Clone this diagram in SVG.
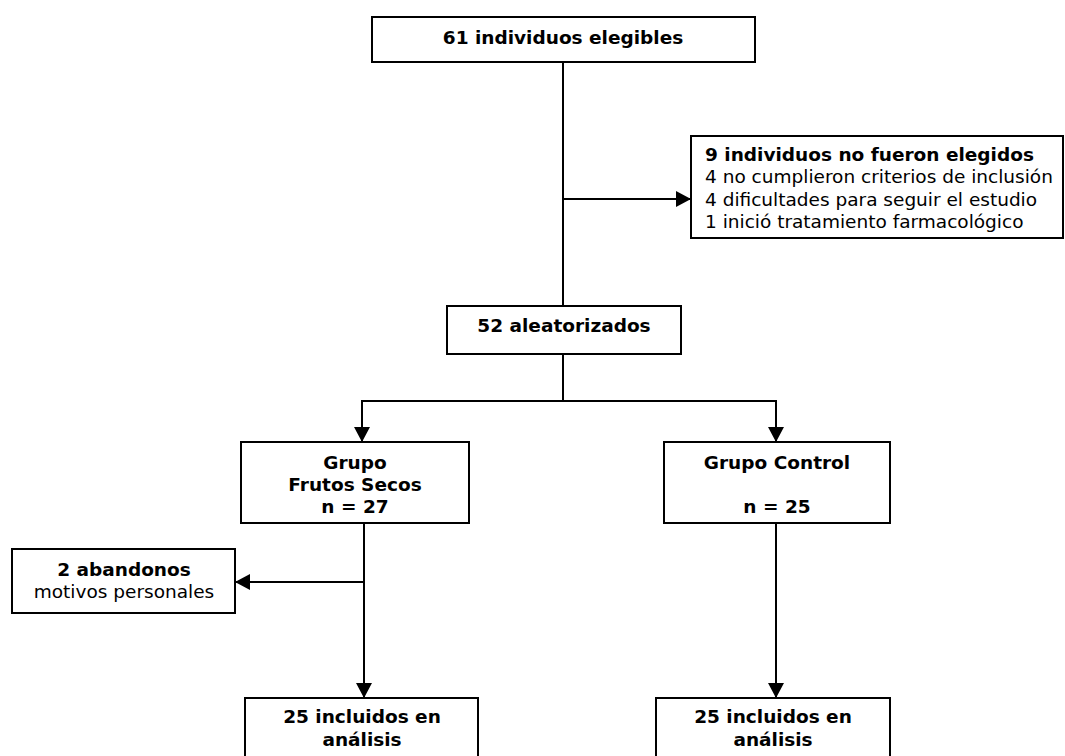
<svg xmlns="http://www.w3.org/2000/svg" width="1065" height="756" viewBox="0 0 1065 756">
<defs>
<style>
.box{fill:#fff;stroke:#000;stroke-width:2}
.ln{fill:none;stroke:#000;stroke-width:2}
.b{font-family:"DejaVu Sans","Verdana",sans-serif;font-weight:bold;font-size:18.5px;fill:#000}
.r{font-family:"DejaVu Sans","Verdana",sans-serif;font-size:18.5px;fill:#000}
.c{text-anchor:middle}
</style>
<marker id="ah" markerUnits="userSpaceOnUse" markerWidth="16" markerHeight="16" viewBox="0 0 15 16" refX="15" refY="8" orient="auto">
<path d="M0,0 L15,8 L0,16 Z" fill="#000"/>
</marker>
</defs>
<rect width="1065" height="756" fill="#fff"/>
<g id="connectors">
<line class="ln" x1="563" y1="62" x2="563" y2="306"/>
<line class="ln" x1="563" y1="199" x2="691" y2="199" marker-end="url(#ah)"/>
<polyline class="ln" points="563,354 563,401 362,401 362,442" marker-end="url(#ah)"/>
<polyline class="ln" points="563,401 776,401 776,442" marker-end="url(#ah)"/>
<line class="ln" x1="364" y1="523" x2="364" y2="698" marker-end="url(#ah)"/>
<line class="ln" x1="364" y1="582" x2="235" y2="582" marker-end="url(#ah)"/>
<line class="ln" x1="776" y1="523" x2="776" y2="698" marker-end="url(#ah)"/>
</g>
<g id="n_eligibles">
<rect class="box" x="372" y="17" width="383" height="45"/>
<text class="b c" x="563" y="44">61 individuos elegibles</text>
</g>
<g id="n_excluded">
<rect class="box" x="691" y="136" width="372" height="102"/>
<text class="b" x="705" y="161">9 individuos no fueron elegidos</text>
<text class="r" x="705" y="183">4 no cumplieron criterios de inclusión</text>
<text class="r" x="705" y="206">4 dificultades para seguir el estudio</text>
<text class="r" x="705" y="228">1 inició tratamiento farmacológico</text>
</g>
<g id="n_random">
<rect class="box" x="447" y="306" width="234" height="48"/>
<text class="b c" x="564" y="332">52 aleatorizados</text>
</g>
<g id="n_frutos">
<rect class="box" x="241" y="442" width="228" height="81"/>
<text class="b c" x="355" y="469">Grupo</text>
<text class="b c" x="355" y="491">Frutos Secos</text>
<text class="b c" x="355" y="513">n = 27</text>
</g>
<g id="n_control">
<rect class="box" x="664" y="442" width="226" height="81"/>
<text class="b c" x="777" y="469">Grupo Control</text>
<text class="b c" x="777" y="513">n = 25</text>
</g>
<g id="n_abandonos">
<rect class="box" x="12" y="549" width="223" height="64"/>
<text class="b c" x="124" y="576">2 abandonos</text>
<text class="r c" x="124" y="598">motivos personales</text>
</g>
<g id="n_incl_frutos">
<rect class="box" x="245" y="698" width="233" height="62"/>
<text class="b c" x="362" y="723">25 incluidos en</text>
<text class="b c" x="362" y="746">análisis</text>
</g>
<g id="n_incl_control">
<rect class="box" x="656" y="698" width="234" height="62"/>
<text class="b c" x="773" y="723">25 incluidos en</text>
<text class="b c" x="773" y="746">análisis</text>
</g>
</svg>
